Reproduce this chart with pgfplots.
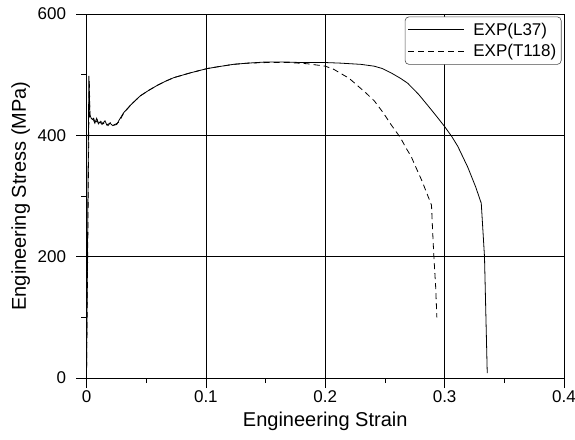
\documentclass[border=0pt]{standalone}
\usepackage{pgfplots}
\pgfplotsset{compat=1.18}
\usepackage{fontspec}
\setmainfont{Liberation Sans}

% Tensile test: engineering stress-strain curves of two specimens
\pgfplotstableread{
x y
0 0
0.0005 120
0.0010 250
0.0015 380
0.0020 498
0.0028 434
0.0040 428
0.0057 426
0.0070 420
0.0085 428
0.0100 419
0.0113 422
0.0130 418
0.0155 424
0.0170 417
0.0197 420
0.0220 416
0.0254 418
0.0270 424
0.0310 437
0.0370 450
0.0450 465
0.0520 474
0.0590 482
0.0660 489
0.0730 495
0.0800 499
0.0870 503
0.0950 507
0.1010 510
0.1100 513
0.1230 517
0.1350 519
0.1510 521
0.1650 521
0.1790 520
0.2000 520
0.2130 519
0.2298 517
0.2410 514
0.2480 510
0.2560 502
0.2630 494
0.2690 486
0.2780 468
0.2860 449
0.2930 432
0.2998 415
0.3060 398
0.3110 382
0.3195 347
0.3260 315
0.3307 288
0.3334 200
0.3357 8
}\Lthirtyseven

\pgfplotstableread{
x y
0 0
0.0006 120
0.0012 250
0.0018 380
0.0023 492
0.0030 430
0.0042 425
0.0060 428
0.0075 419
0.0090 425
0.0105 417
0.0120 423
0.0138 419
0.0160 422
0.0180 416
0.0200 421
0.0225 417
0.0250 419
0.0272 422
0.0310 436
0.0370 450
0.0450 465
0.0520 474
0.0590 482
0.0660 489
0.0730 495
0.0800 499
0.0870 503
0.0950 507
0.1010 510
0.1100 513
0.1230 517
0.1350 519
0.1510 520
0.1700 520
0.1850 518
0.2000 514
0.2070 509
0.2130 502
0.2200 494
0.2270 482
0.2340 470
0.2410 457
0.2490 436
0.2550 418
0.2630 396
0.2680 378
0.2720 365
0.2760 347
0.2810 325
0.2860 300
0.2890 285
0.2900 240
0.2910 200
0.2925 150
0.2935 100
}\Tonehundredeighteen

\begin{document}
\begin{tikzpicture}
\begin{axis}[
  scale only axis,
  width=477.5pt, height=364pt,
  xmin=0, xmax=0.4, ymin=0, ymax=600,
  xtick={0,0.1,0.2,0.3,0.4},
  xticklabels={0,0.1,0.2,0.3,0.4},
  ytick={0,200,400,600},
  minor xtick={0.05,0.15,0.25,0.35},
  minor ytick={100,300,500},
  tick pos=left,
  tick align=outside,
  major tick length=10pt,
  minor tick length=5pt,
  every tick/.style={black, line width=0.6pt},
  grid=major,
  major grid style={black, line width=0.6pt},
  axis line style={black, line width=0.7pt},
  ticklabel style={font=\fontsize{17}{20}\selectfont},
  yticklabel style={xshift=-7pt},
  xticklabel style={yshift=1pt},
  /pgf/number format/assume math mode=true,
  xlabel={Engineering Strain},
  ylabel={Engineering Stress (MPa)},
  label style={font=\fontsize{20}{24}\selectfont},
  xlabel style={at={(axis description cs:0.5,-0.118)}, anchor=center},
  ylabel style={at={(axis description cs:-0.138,0.5)}, anchor=center},
  legend style={
    at={(1,1)}, anchor=north east, xshift=-2.5pt, yshift=-2.5pt,
    draw=black!70, rounded corners=4pt, line width=0.6pt,
    font=\fontsize{17}{20}\selectfont,
    cells={anchor=west},
    column sep=7pt,
    inner xsep=3pt, inner ysep=4pt, row sep=4pt,
  },
  legend image code/.code={
    \draw[#1] (0cm,0cm) -- (1.95cm,0cm);
  },
]
\addplot[black, line width=0.8pt] table[x=x, y=y] {\Lthirtyseven};
\addlegendentry{EXP(L37)}
\addplot[black, line width=0.8pt, dash pattern=on 6pt off 4pt] table[x=x, y=y] {\Tonehundredeighteen};
\addlegendentry{EXP(T118)}
\end{axis}
% page frame around the plot
\pgfresetboundingbox
\path (current axis.south west) ++(-86.5pt,-61pt) rectangle ++(575pt,439pt);
\end{tikzpicture}
\end{document}
